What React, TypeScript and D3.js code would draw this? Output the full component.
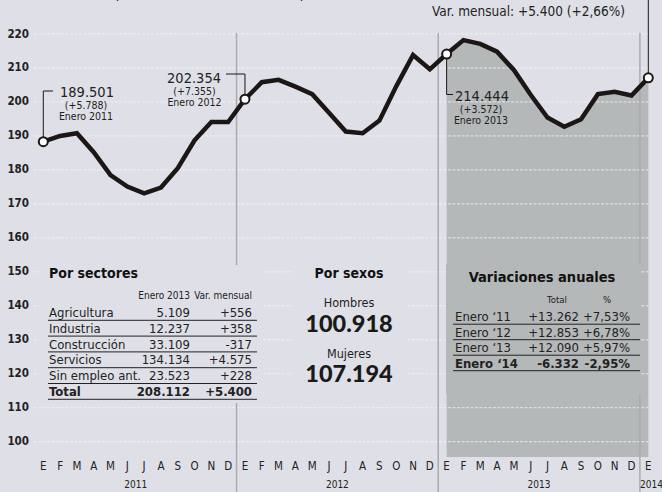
import * as d3 from "d3"

const MONTHS = ["E", "F", "M", "A", "M", "J", "J", "A", "S", "O", "N", "D"]
const YEARS = ["2011", "2012", "2013", "2014"]

// parados (miles), enero 2011 -> enero 2014
const PARADOS = [
  188.3, 190.0, 190.8, 185.2, 178.5, 175.1, 173.1, 174.8, 180.5, 188.7, 194.1, 194.1,
  200.8, 205.8, 206.5, 204.5, 202.3, 196.8, 191.3, 190.8, 194.5, 204.6, 213.8, 209.6,
  214.1, 218.2, 217.1, 214.8, 209.4, 202.1, 195.4, 192.7, 194.9, 202.3, 203.0, 201.9,
  207.1,
]
const Y_TICKS = [100, 110, 120, 130, 140, 150, 160, 170, 180, 190, 200, 210, 220]

const SECTORES = ["Agricultura", "Industria", "Construcción", "Servicios", "Sin empleo ant.", "Total"]
const SECTOR_ENERO = ["5.109", "12.237", "33.109", "134.134", "23.523", "208.112"]
const SECTOR_VAR = ["+556", "+358", "-317", "+4.575", "+228", "+5.400"]

const SEXOS = ["Hombres", "Mujeres"]
const SEXOS_VAL = ["100.918", "107.194"]

const ANUAL_LABELS = ["Enero ‘11", "Enero ‘12", "Enero ‘13", "Enero ‘14"]
const ANUAL_TOTAL = ["+13.262", "+12.853", "+12.090", "-6.332"]
const ANUAL_PCT = ["+7,53%", "+6,78%", "+5,97%", "-2,95%"]

const HITO_VALOR = ["189.501", "202.354", "214.444"]
const HITO_VAR = ["(+5.788)", "(+7.355)", "(+3.572)"]
const HITO_FECHA = ["Enero 2011", "Enero 2012", "Enero 2013"]

const W = 662
const H = 492
const BG = "#dfe0e7"
const GRAY = "#b4b8b9"
const INK = "#1c1714"
const FONT = "'DejaVu Sans Condensed', 'DejaVu Sans', sans-serif"

export default function App() {
  const x = d3.scaleLinear().domain([0, 36]).range([43.3, 648.3])
  const y = d3.scaleLinear().domain([100, 220]).range([441.7, 34])

  const line = d3
    .line<number>()
    .x((_, i) => x(i))
    .y((d) => y(d))

  const area2013 = d3
    .area<number>()
    .x((_, i) => x(i + 24))
    .y0(457)
    .y1((d) => y(d))

  const hitos = [0, 12, 24].map((i) => ({ cx: x(i), cy: y(PARADOS[i]) }))
  const last = { cx: x(36), cy: y(PARADOS[36]) }

  return (
    <svg
      width={W}
      height={H}
      style={{ position: "absolute", left: 0, top: 0, background: BG }}
      fontFamily={FONT}
    >
      <rect width={W} height={H} fill={BG} />

      {/* zona 2013 */}
      <path d={area2013(PARADOS.slice(24))!} fill={GRAY} />

      {/* rejilla */}
      {Y_TICKS.map((t) => (
        <g key={t}>
          <line
            x1={34}
            x2={648}
            y1={y(t)}
            y2={y(t)}
            stroke="#f4f4f7"
            strokeWidth={0.8}
            strokeDasharray="3,1.5"
          />
          <text
            x={29}
            y={y(t)}
            textAnchor="end"
            dominantBaseline="middle"
            fontSize={11.5}
            fontWeight="bold"
            fill="#222"
          >
            {t}
          </text>
        </g>
      ))}

      {/* separadores de año */}
      {[11.5, 23.5, 35.5].map((m) => (
        <line key={m} x1={x(m)} x2={x(m)} y1={33} y2={H} stroke="#a9abaf" strokeWidth={1.5} />
      ))}

      {/* serie */}
      <path d={line(PARADOS)!} fill="none" stroke={INK} strokeWidth={4.5} strokeLinejoin="miter" />

      {/* anotaciones */}
      <path
        d={`M${hitos[0].cx},${hitos[0].cy}V91H53`}
        fill="none"
        stroke={INK}
        strokeWidth={1}
      />
      <text x={60} y={97} fontSize={14.5} fill="#222">{HITO_VALOR[0]}</text>
      <text x={86} y={108.5} fontSize={10.5} textAnchor="middle" fill="#222">{HITO_VAR[0]}</text>
      <text x={86} y={120} fontSize={10.5} textAnchor="middle" fill="#222">{HITO_FECHA[0]}</text>

      <path
        d={`M${hitos[1].cx},${hitos[1].cy}V74H226`}
        fill="none"
        stroke={INK}
        strokeWidth={1}
      />
      <text x={221} y={83} fontSize={14.5} textAnchor="end" fill="#222">{HITO_VALOR[1]}</text>
      <text x={194.5} y={95} fontSize={10.5} textAnchor="middle" fill="#222">{HITO_VAR[1]}</text>
      <text x={194.5} y={106} fontSize={10.5} textAnchor="middle" fill="#222">{HITO_FECHA[1]}</text>

      <path
        d={`M${hitos[2].cx},${hitos[2].cy}V94.5H453`}
        fill="none"
        stroke={INK}
        strokeWidth={1}
      />
      <text x={455} y={101} fontSize={14.5} fill="#222">{HITO_VALOR[2]}</text>
      <text x={481} y={112.5} fontSize={10.5} textAnchor="middle" fill="#222">{HITO_VAR[2]}</text>
      <text x={481} y={123.5} fontSize={10.5} textAnchor="middle" fill="#222">{HITO_FECHA[2]}</text>

      <path d={`M${last.cx},${last.cy}V0`} fill="none" stroke={INK} strokeWidth={1} />
      <text x={625} y={16} fontSize={13.5} textAnchor="end" fill="#222">
        Var. mensual: +5.400 (+2,66%)
      </text>
      <text x={42} y={-2} fontSize={14} fill="#222">
        Número de parados totales (en miles de personas)
      </text>

      {[...hitos, last].map((p, i) => (
        <circle key={i} cx={p.cx} cy={p.cy} r={4.5} fill="#fff" stroke={INK} strokeWidth={2} />
      ))}

      {/* Por sectores */}
      <rect x={40} y={265} width={223} height={138} fill={BG} />
      <text x={49} y={278} fontSize={14} fontWeight="bold" fill="#111">Por sectores</text>
      <text x={190} y={298.5} fontSize={10} textAnchor="end" fill="#222">Enero 2013</text>
      <text x={252} y={298.5} fontSize={10} textAnchor="end" fill="#222">Var. mensual</text>
      {SECTORES.map((s, i) => {
        const by = 317 + i * 15.8
        const bold = i === SECTORES.length - 1
        return (
          <g key={s} fontSize={13} fill="#222" fontWeight={bold ? "bold" : "normal"}>
            <text x={49} y={by}>{s}</text>
            <text x={190} y={by} textAnchor="end">{SECTOR_ENERO[i]}</text>
            <text x={252} y={by} textAnchor="end">{SECTOR_VAR[i]}</text>
            <line x1={48} x2={257} y1={by + 3.3} y2={by + 3.3} stroke="#222" strokeWidth={1} />
          </g>
        )
      })}

      {/* Por sexos */}
      <rect x={292} y={265} width={115} height={138} fill={BG} />
      <text x={349} y={278} fontSize={14} fontWeight="bold" textAnchor="middle" fill="#111">
        Por sexos
      </text>
      {SEXOS.map((s, i) => (
        <g key={s}>
          <text x={349} y={306.5 + i * 51} fontSize={12.5} textAnchor="middle" fill="#222">
            {s}
          </text>
          <text
            x={349}
            y={332 + i * 50}
            fontSize={23.5}
            fontWeight={900}
            fontFamily="Lato, sans-serif"
            textAnchor="middle"
            fill="#1a1a1a"
          >
            {SEXOS_VAL[i]}
          </text>
        </g>
      ))}

      {/* Variaciones anuales */}
      <rect x={446} y={264} width={195} height={130} fill={GRAY} />
      <text x={542} y={282} fontSize={14.5} fontWeight="bold" textAnchor="middle" fill="#111">
        Variaciones anuales
      </text>
      <text x={557} y={303} fontSize={9.5} textAnchor="middle" fill="#222">Total</text>
      <text x={607} y={303} fontSize={9.5} textAnchor="middle" fill="#222">%</text>
      {ANUAL_LABELS.map((s, i) => {
        const by = 321 + i * 15.5
        const bold = i === ANUAL_LABELS.length - 1
        return (
          <g key={s} fontSize={13} fill="#222" fontWeight={bold ? "bold" : "normal"}>
            <text x={455} y={by}>{s}</text>
            <text x={579} y={by} textAnchor="end">{ANUAL_TOTAL[i]}</text>
            <text x={630} y={by} textAnchor="end">{ANUAL_PCT[i]}</text>
            <line x1={453} x2={640} y1={by + 3.2} y2={by + 3.2} stroke="#222" strokeWidth={1} />
          </g>
        )
      })}

      {/* eje x */}
      {d3.range(37).map((i) => (
        <text key={i} x={x(i)} y={470} fontSize={11.5} textAnchor="middle" fill="#222">
          {MONTHS[i % 12]}
        </text>
      ))}
      {YEARS.map((yr, k) =>
        k < 3 ? (
          <text key={yr} x={x(k * 12 + 5.5)} y={488} fontSize={10} textAnchor="middle" fill="#222">
            {yr}
          </text>
        ) : (
          <text key={yr} x={640} y={488} fontSize={10} fill="#222">
            {yr}
          </text>
        )
      )}
    </svg>
  )
}
